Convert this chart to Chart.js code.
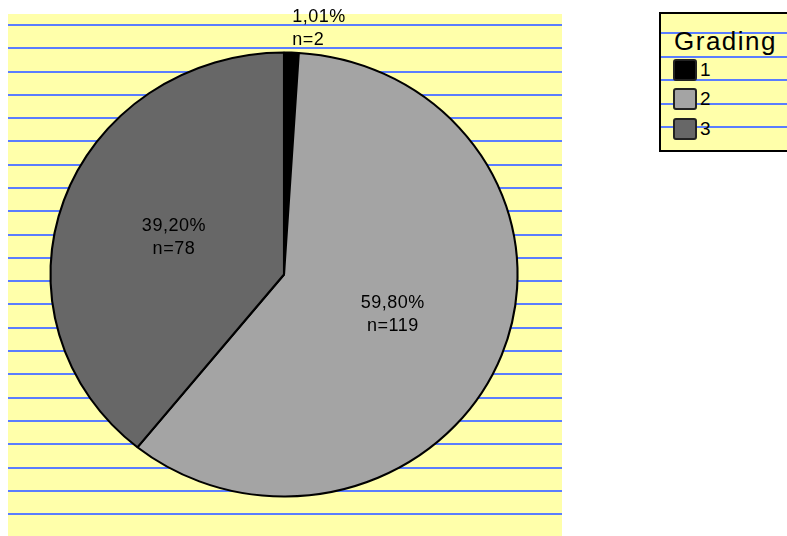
<!DOCTYPE html>
<html lang="de">
<head>
  <meta charset="UTF-8">
  <title>Grading</title>
  <script src="https://cdn.jsdelivr.net/npm/chart.js"></script>
  <style>
    html, body { margin: 0; padding: 0; background: #fff; overflow: hidden; }
    body { width: 787px; height: 536px; position: relative; font-family: "Liberation Sans", Arial, sans-serif; }
    #wrap { position: absolute; left: 0; top: 0; width: 787px; height: 536px; }
    #legend {
      position: absolute; left: 659px; top: 12px; width: 140px; height: 136px;
      border: 2px solid #000; box-sizing: content-box;
      background: repeating-linear-gradient(to bottom, #ffffaa 0px, #ffffaa 18px, #5a7dff 18px, #5a7dff 20px, #ffffaa 20px, #ffffaa 23.5px);
      color: #000;
    }
    #legend .title { position: absolute; left: 13px; top: 12px; font-size: 26px; line-height: 30px; letter-spacing: 1.5px; }
    #legend .item { position: absolute; left: 12px; height: 22px; line-height: 22px; font-size: 19px; }
    #legend .box { position: absolute; left: 0; top: 0; width: 20px; height: 18px; border: 2px solid #222; border-radius: 3px; }
    #legend .lbl { position: absolute; left: 27px; top: 0; }
  </style>
</head>
<body>
  <div id="wrap"><canvas id="pie"></canvas></div>
  <div id="legend"></div>

  <script>
    // Grading distribution
    const labels = ['1', '2', '3'];
    const percents = [1.01, 59.80, 39.20];
    const counts = [2, 119, 78];
    const colors = ['#000000', '#a4a4a4', '#676767'];
    const legendTitle = 'Grading';

    const XSTRETCH = 1.052; // pie is slightly wider than tall in the original

    const paperBg = {
      id: 'paperBg',
      beforeDraw(chart) {
        const ctx = chart.ctx;
        ctx.save();
        ctx.fillStyle = '#ffffaa';
        ctx.fillRect(8, 14, 554, 522);
        ctx.fillStyle = '#5a7dff';
        for (let y = 24; y < 536; y += 23.29) {
          ctx.fillRect(8, Math.round(y), 554, 2);
        }
        ctx.restore();
      }
    };

    const stretch = {
      id: 'stretch',
      beforeDatasetsDraw(chart) {
        const arc = chart.getDatasetMeta(0).data[0];
        const ctx = chart.ctx;
        ctx.save();
        ctx.translate(arc.x, arc.y);
        ctx.scale(XSTRETCH, 1);
        ctx.translate(-arc.x, -arc.y);
      },
      afterDatasetsDraw(chart) {
        chart.ctx.restore();
      }
    };

    const sliceLabels = {
      id: 'sliceLabels',
      afterDraw(chart) {
        const ctx = chart.ctx;
        const meta = chart.getDatasetMeta(0);
        ctx.save();
        ctx.font = '18px "Liberation Sans", Arial, sans-serif';
        ctx.letterSpacing = '0.5px';
        ctx.fillStyle = '#000';
        ctx.textBaseline = 'middle';
        meta.data.forEach((arc, i) => {
          const p = arc.getProps(['x', 'y', 'startAngle', 'endAngle', 'outerRadius']);
          const mid = (p.startAngle + p.endAngle) / 2;
          const l1 = percents[i].toFixed(2).replace('.', ',') + '%';
          const l2 = 'n=' + counts[i];
          let x, y;
          if (percents[i] < 5) {
            const r = p.outerRadius + 24;
            x = p.x + Math.cos(mid) * r * XSTRETCH;
            y = p.y + Math.sin(mid) * r;
            ctx.textAlign = 'left';
          } else {
            const r = p.outerRadius * 0.5;
            x = p.x + Math.cos(mid) * r * XSTRETCH;
            y = p.y + Math.sin(mid) * r;
            ctx.textAlign = 'center';
          }
          ctx.fillText(l1, x, y - 11.5);
          ctx.fillText(l2, x, y + 11.5);
        });
        ctx.restore();
      }
    };

    const chart = new Chart(document.getElementById('pie'), {
      type: 'pie',
      data: {
        labels: labels,
        datasets: [{
          data: percents,
          backgroundColor: colors,
          borderColor: '#000',
          borderWidth: 2
        }]
      },
      options: {
        responsive: true,
        maintainAspectRatio: false,
        animation: false,
        radius: 222,
        layout: { padding: { left: 62, right: 281, top: 52, bottom: 39 } },
        plugins: {
          legend: { display: false },
          tooltip: { enabled: false }
        }
      },
      plugins: [paperBg, stretch, sliceLabels]
    });

    // html legend from the chart data
    const legend = document.getElementById('legend');
    let html = '<div class="title">' + legendTitle + '</div>';
    const rowTops = [45, 74, 104];
    chart.data.labels.forEach((lab, i) => {
      html += '<div class="item" style="top:' + rowTops[i] + 'px">' +
        '<span class="box" style="background:' + chart.data.datasets[0].backgroundColor[i] + '"></span>' +
        '<span class="lbl">' + lab + '</span></div>';
    });
    legend.innerHTML = html;
  </script>
</body>
</html>
